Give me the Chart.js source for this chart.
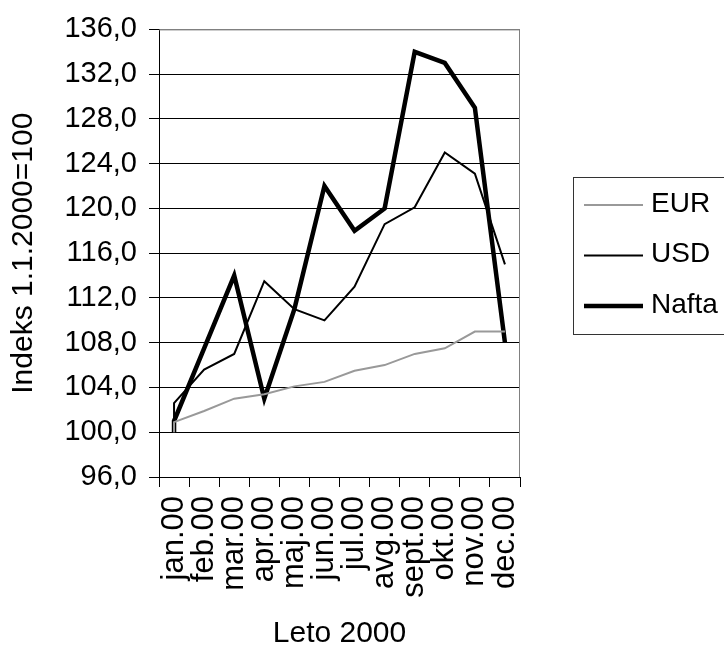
<!DOCTYPE html>
<html>
<head>
<meta charset="utf-8">
<script src="https://cdn.jsdelivr.net/npm/chart.js@4/dist/chart.umd.min.js"></script>
<style>
  html, body { margin: 0; padding: 0; background: #ffffff; }
  #c { display: block; }
</style>
</head>
<body>
<canvas id="c" width="724" height="646"></canvas>
<script>
// ---- Data ----
const categories = ['jan.00', 'feb.00', 'mar.00', 'apr.00', 'maj.00', 'jun.00', 'jul.00', 'avg.00', 'sept.00', 'okt.00', 'nov.00', 'dec.00'];
const baseIndex = 100; // 1.1.2000 = 100 (start point of every series)
const eurValues = [100.9, 101.9, 103.0, 103.4, 104.1, 104.5, 105.5, 106.0, 107.0, 107.5, 109.0, 109.0];
const usdValues = [102.6, 105.6, 107.0, 113.5, 111.0, 110.0, 113.0, 118.6, 120.1, 125.0, 123.1, 115.0];
const naftaValues = [101.0, 107.5, 114.0, 103.0, 111.0, 122.0, 118.0, 120.0, 134.0, 133.0, 129.0, 108.0];
const yTicks = [96, 100, 104, 108, 112, 116, 120, 124, 128, 132, 136];
const seriesNames = ['EUR', 'USD', 'Nafta'];

const FONT = 'Liberation Sans, Arial, Helvetica, sans-serif';

function series(values) {
  const pts = [{ x: categories[0], y: baseIndex }];
  values.forEach((v, i) => pts.push({ x: categories[i], y: v }));
  return pts;
}

const plotBorder = {
  id: 'plotBorder',
  afterDraw(chart) {
    const { ctx, chartArea: a } = chart;
    ctx.save();
    ctx.strokeStyle = '#808080';
    ctx.lineWidth = 1;
    ctx.beginPath();
    ctx.moveTo(a.left, a.top + 0.5);
    ctx.lineTo(a.right - 0.5, a.top + 0.5);
    ctx.lineTo(a.right - 0.5, a.bottom);
    ctx.stroke();
    ctx.restore();
  }
};

const boxLegend = {
  id: 'boxLegend',
  afterDraw(chart) {
    const { ctx } = chart;
    const left = 573, top = 177, bottom = 334, gap = 50.5;
    ctx.save();
    ctx.strokeStyle = '#333333';
    ctx.lineWidth = 1;
    ctx.strokeRect(left + 0.5, top + 0.5, 200, bottom - top);
    chart.data.datasets.forEach((ds, i) => {
      const y = 205 + i * gap;
      ctx.strokeStyle = ds.borderColor;
      ctx.lineWidth = ds.borderWidth;
      ctx.beginPath();
      ctx.moveTo(584, y);
      ctx.lineTo(643, y);
      ctx.stroke();
      ctx.fillStyle = '#000';
      ctx.font = '28px ' + FONT;
      ctx.textBaseline = 'middle';
      ctx.textAlign = 'left';
      ctx.fillText(ds.label, 651, y - 1);
    });
    ctx.restore();
  }
};

new Chart(document.getElementById('c'), {
  type: 'line',
  data: {
    labels: categories,
    datasets: [
      { label: seriesNames[0], data: series(eurValues), borderColor: '#999999', borderWidth: 2 },
      { label: seriesNames[1], data: series(usdValues), borderColor: '#000000', borderWidth: 2 },
      { label: seriesNames[2], data: series(naftaValues), borderColor: '#000000', borderWidth: 4.5 }
    ]
  },
  options: {
    responsive: false,
    animation: false,
    devicePixelRatio: 1,
    layout: { padding: { top: 29, right: 204, left: 0, bottom: 0 } },
    elements: {
      point: { radius: 0, hoverRadius: 0 },
      line: { tension: 0, borderJoinStyle: 'miter', borderCapStyle: 'butt', fill: false }
    },
    plugins: { legend: { display: false }, tooltip: { enabled: false } },
    scales: {
      x: {
        type: 'category',
        offset: true,
        grid: { offset: true, drawOnChartArea: false, drawTicks: true, tickLength: 10, color: '#000000' },
        border: { color: '#000000', width: 1 },
        ticks: {
          autoSkip: false, minRotation: 90, maxRotation: 90, padding: 9,
          color: '#000000', font: { family: FONT, size: 31 }
        },
        title: {
          display: true, text: 'Leto 2000', color: '#000000',
          font: { family: FONT, size: 30, lineHeight: 0.8 }, padding: { top: 0, bottom: 0 }
        },
        afterFit(s) { s.height = 169; }
      },
      y: {
        min: 96, max: 136,
        afterBuildTicks(s) { s.ticks = yTicks.map(v => ({ value: v })); },
        grid: {
          drawTicks: true, tickLength: 10, tickColor: '#000000',
          color: (c) => (c.tick && c.tick.value === 136 ? '#808080' : '#000000')
        },
        border: { color: '#000000', width: 1 },
        ticks: {
          padding: 12, color: '#000000', font: { family: FONT, size: 29 },
          callback: (v) => Number(v).toFixed(1).replace('.', ',')
        },
        title: {
          display: true, text: 'Indeks 1.1.2000=100', color: '#000000',
          font: { family: FONT, size: 30, lineHeight: 1.2 }, padding: { top: 6, bottom: 0 }
        },
        afterFit(s) { s.width = 159; }
      }
    }
  },
  plugins: [plotBorder, boxLegend]
});
</script>
</body>
</html>
